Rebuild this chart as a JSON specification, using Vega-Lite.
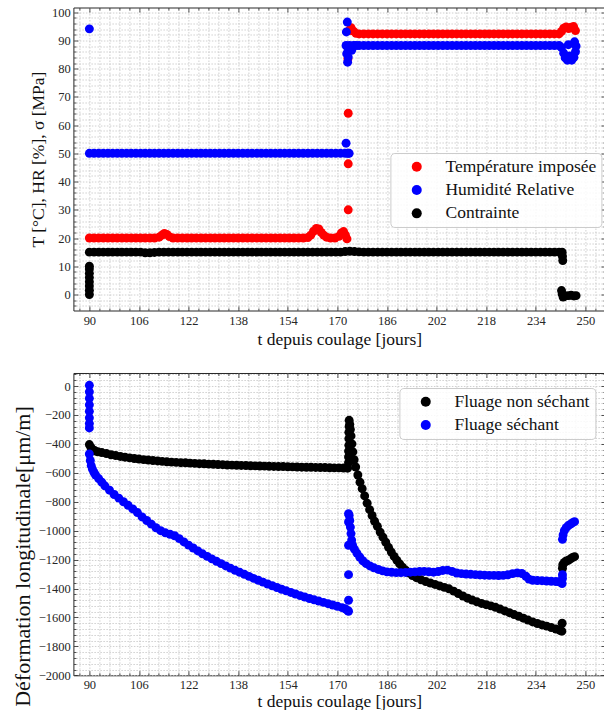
{
"$schema": "https://vega.github.io/schema/vega-lite/v6.json",
"padding": {"left": 11.4, "top": 5.5, "right": 0, "bottom": 0},
"spacing": 23.5,
"datasets": {
"T": [{"t":90,"v":20},{"t":91.5,"v":20},{"t":93,"v":20},{"t":94.5,"v":20},{"t":96,"v":20},{"t":97.5,"v":20},{"t":99,"v":20},{"t":100.5,"v":20},{"t":102,"v":20},{"t":103.5,"v":20},{"t":105,"v":20},{"t":106.5,"v":20},{"t":108,"v":20},{"t":109.5,"v":20},{"t":111,"v":20},{"t":112.5,"v":20.3},{"t":113.4,"v":21},{"t":114.2,"v":21.6},{"t":115,"v":21.3},{"t":115.8,"v":20.5},{"t":117,"v":20},{"t":118.5,"v":20},{"t":120,"v":20},{"t":121.5,"v":20},{"t":123,"v":20},{"t":124.5,"v":20},{"t":126,"v":20},{"t":127.5,"v":20},{"t":129,"v":20},{"t":130.5,"v":20},{"t":132,"v":20},{"t":133.5,"v":20},{"t":135,"v":20},{"t":136.5,"v":20},{"t":138,"v":20},{"t":139.5,"v":20},{"t":141,"v":20},{"t":142.5,"v":20},{"t":144,"v":20},{"t":145.5,"v":20},{"t":147,"v":20},{"t":148.5,"v":20},{"t":150,"v":20},{"t":151.5,"v":20},{"t":153,"v":20},{"t":154.5,"v":20},{"t":156,"v":20},{"t":157.5,"v":20},{"t":159,"v":20},{"t":160.5,"v":20.2},{"t":161.4,"v":21},{"t":162.3,"v":22.4},{"t":163.2,"v":23.4},{"t":164,"v":23.2},{"t":164.8,"v":22},{"t":165.6,"v":21},{"t":166.5,"v":20.3},{"t":167.8,"v":20},{"t":169.2,"v":20},{"t":170.5,"v":20.6},{"t":171.3,"v":21.8},{"t":172,"v":22.3},{"t":172.6,"v":21},{"t":173.1,"v":19.7},{"t":173.5,"v":30},{"t":173.5,"v":46.3},{"t":173.5,"v":64.2},{"t":173.4,"v":83.5},{"t":173.6,"v":87},{"t":173.8,"v":93.5},{"t":174.4,"v":94.5},{"t":175.2,"v":93.3},{"t":176,"v":92.5},{"t":177,"v":92.3},{"t":178.5,"v":92.3},{"t":180,"v":92.3},{"t":181.5,"v":92.3},{"t":183,"v":92.3},{"t":184.5,"v":92.3},{"t":186,"v":92.3},{"t":187.5,"v":92.3},{"t":189,"v":92.3},{"t":190.5,"v":92.3},{"t":192,"v":92.3},{"t":193.5,"v":92.3},{"t":195,"v":92.3},{"t":196.5,"v":92.3},{"t":198,"v":92.3},{"t":199.5,"v":92.3},{"t":201,"v":92.3},{"t":202.5,"v":92.3},{"t":204,"v":92.3},{"t":205.5,"v":92.3},{"t":207,"v":92.3},{"t":208.5,"v":92.3},{"t":210,"v":92.3},{"t":211.5,"v":92.3},{"t":213,"v":92.3},{"t":214.5,"v":92.3},{"t":216,"v":92.3},{"t":217.5,"v":92.3},{"t":219,"v":92.3},{"t":220.5,"v":92.3},{"t":222,"v":92.3},{"t":223.5,"v":92.3},{"t":225,"v":92.3},{"t":226.5,"v":92.3},{"t":228,"v":92.3},{"t":229.5,"v":92.3},{"t":231,"v":92.3},{"t":232.5,"v":92.3},{"t":234,"v":92.3},{"t":235.5,"v":92.3},{"t":237,"v":92.3},{"t":238.5,"v":92.3},{"t":240,"v":92.3},{"t":241.5,"v":92.3},{"t":242.3,"v":93.2},{"t":243,"v":94.3},{"t":243.8,"v":94.8},{"t":244.6,"v":94.2},{"t":245.4,"v":94.7},{"t":246.2,"v":94.9},{"t":246.8,"v":93.5}],
"H": [{"t":90,"v":94.1},{"t":90,"v":50},{"t":91.5,"v":50},{"t":93,"v":50},{"t":94.5,"v":50},{"t":96,"v":50},{"t":97.5,"v":50},{"t":99,"v":50},{"t":100.5,"v":50},{"t":102,"v":50},{"t":103.5,"v":50},{"t":105,"v":50},{"t":106.5,"v":50},{"t":108,"v":50},{"t":109.5,"v":50},{"t":111,"v":50},{"t":112.5,"v":50},{"t":114,"v":50},{"t":115.5,"v":50},{"t":117,"v":50},{"t":118.5,"v":50},{"t":120,"v":50},{"t":121.5,"v":50},{"t":123,"v":50},{"t":124.5,"v":50},{"t":126,"v":50},{"t":127.5,"v":50},{"t":129,"v":50},{"t":130.5,"v":50},{"t":132,"v":50},{"t":133.5,"v":50},{"t":135,"v":50},{"t":136.5,"v":50},{"t":138,"v":50},{"t":139.5,"v":50},{"t":141,"v":50},{"t":142.5,"v":50},{"t":144,"v":50},{"t":145.5,"v":50},{"t":147,"v":50},{"t":148.5,"v":50},{"t":150,"v":50},{"t":151.5,"v":50},{"t":153,"v":50},{"t":154.5,"v":50},{"t":156,"v":50},{"t":157.5,"v":50},{"t":159,"v":50},{"t":160.5,"v":50},{"t":162,"v":50},{"t":163.5,"v":50},{"t":165,"v":50},{"t":166.5,"v":50},{"t":168,"v":50},{"t":169.5,"v":50},{"t":171,"v":50},{"t":172.5,"v":50},{"t":172.8,"v":53.6},{"t":173.4,"v":50},{"t":173.8,"v":50},{"t":173.2,"v":96.5},{"t":172.9,"v":93},{"t":172.8,"v":88.2},{"t":173.3,"v":87.6},{"t":173,"v":85.3},{"t":173.5,"v":84.1},{"t":173.3,"v":82.3},{"t":173.9,"v":88.2},{"t":174.6,"v":86.5},{"t":175.2,"v":88.2},{"t":176,"v":88.2},{"t":177,"v":88.2},{"t":178.5,"v":88.2},{"t":180,"v":88.2},{"t":181.5,"v":88.2},{"t":183,"v":88.2},{"t":184.5,"v":88.2},{"t":186,"v":88.2},{"t":187.5,"v":88.2},{"t":189,"v":88.2},{"t":190.5,"v":88.2},{"t":192,"v":88.2},{"t":193.5,"v":88.2},{"t":195,"v":88.2},{"t":196.5,"v":88.2},{"t":198,"v":88.2},{"t":199.5,"v":88.2},{"t":201,"v":88.2},{"t":202.5,"v":88.2},{"t":204,"v":88.2},{"t":205.5,"v":88.2},{"t":207,"v":88.2},{"t":208.5,"v":88.2},{"t":210,"v":88.2},{"t":211.5,"v":88.2},{"t":213,"v":88.2},{"t":214.5,"v":88.2},{"t":216,"v":88.2},{"t":217.5,"v":88.2},{"t":219,"v":88.2},{"t":220.5,"v":88.2},{"t":222,"v":88.2},{"t":223.5,"v":88.2},{"t":225,"v":88.2},{"t":226.5,"v":88.2},{"t":228,"v":88.2},{"t":229.5,"v":88.2},{"t":231,"v":88.2},{"t":232.5,"v":88.2},{"t":234,"v":88.2},{"t":235.5,"v":88.2},{"t":237,"v":88.2},{"t":238.5,"v":88.2},{"t":240,"v":88.2},{"t":241.5,"v":88.2},{"t":242.3,"v":87.5},{"t":243,"v":85.5},{"t":243.5,"v":83.8},{"t":244.2,"v":83},{"t":245,"v":84.5},{"t":245.6,"v":83},{"t":246.3,"v":84},{"t":246.8,"v":86},{"t":247,"v":88},{"t":246.5,"v":89.5},{"t":244.5,"v":88.5}],
"C": [{"t":90,"v":0},{"t":90,"v":1.5},{"t":90,"v":3},{"t":90,"v":4.5},{"t":90,"v":6},{"t":90,"v":7.5},{"t":90,"v":9},{"t":90,"v":10},{"t":90,"v":15},{"t":91.5,"v":15},{"t":93,"v":15},{"t":94.5,"v":15},{"t":96,"v":15},{"t":97.5,"v":15},{"t":99,"v":15},{"t":100.5,"v":15},{"t":102,"v":15},{"t":103.5,"v":15},{"t":105,"v":15},{"t":106.5,"v":15},{"t":108,"v":14.8},{"t":109.5,"v":14.8},{"t":111,"v":14.9},{"t":112.5,"v":15},{"t":114,"v":15},{"t":115.5,"v":15},{"t":117,"v":15},{"t":118.5,"v":15},{"t":120,"v":15},{"t":121.5,"v":15},{"t":123,"v":15},{"t":124.5,"v":15},{"t":126,"v":15},{"t":127.5,"v":15},{"t":129,"v":15},{"t":130.5,"v":15},{"t":132,"v":15},{"t":133.5,"v":15},{"t":135,"v":15},{"t":136.5,"v":15},{"t":138,"v":15},{"t":139.5,"v":15},{"t":141,"v":15},{"t":142.5,"v":15},{"t":144,"v":15},{"t":145.5,"v":15},{"t":147,"v":15},{"t":148.5,"v":15},{"t":150,"v":15},{"t":151.5,"v":15},{"t":153,"v":15},{"t":154.5,"v":15},{"t":156,"v":15},{"t":157.5,"v":15},{"t":159,"v":15},{"t":160.5,"v":15},{"t":162,"v":15},{"t":163.5,"v":15},{"t":165,"v":15},{"t":166.5,"v":15},{"t":168,"v":15},{"t":169.5,"v":15},{"t":171,"v":15},{"t":172.5,"v":15.2},{"t":174,"v":15.3},{"t":175.5,"v":15.2},{"t":177,"v":15.1},{"t":178.5,"v":15},{"t":180,"v":15},{"t":181.5,"v":15},{"t":183,"v":15},{"t":184.5,"v":15},{"t":186,"v":15},{"t":187.5,"v":15},{"t":189,"v":15},{"t":190.5,"v":15},{"t":192,"v":15},{"t":193.5,"v":15},{"t":195,"v":15},{"t":196.5,"v":15},{"t":198,"v":15},{"t":199.5,"v":15},{"t":201,"v":15},{"t":202.5,"v":15},{"t":204,"v":15},{"t":205.5,"v":15},{"t":207,"v":15},{"t":208.5,"v":15},{"t":210,"v":15},{"t":211.5,"v":15},{"t":213,"v":15},{"t":214.5,"v":15},{"t":216,"v":15},{"t":217.5,"v":15},{"t":219,"v":15},{"t":220.5,"v":15},{"t":222,"v":15},{"t":223.5,"v":15},{"t":225,"v":15},{"t":226.5,"v":15},{"t":228,"v":15},{"t":229.5,"v":15},{"t":231,"v":15},{"t":232.5,"v":15},{"t":234,"v":15},{"t":235.5,"v":15},{"t":237,"v":15},{"t":238.5,"v":15},{"t":240,"v":15},{"t":241.5,"v":15},{"t":242.5,"v":15},{"t":242.6,"v":13.5},{"t":242.7,"v":12},{"t":242.3,"v":1.4},{"t":242.5,"v":0.2},{"t":242.8,"v":-0.9},{"t":243.6,"v":-0.5},{"t":244.5,"v":-0.4},{"t":245.4,"v":-0.3},{"t":246.3,"v":-0.5},{"t":247,"v":-0.4}],
"NS": [{"t":90,"v":-405},{"t":90.5,"v":-425},{"t":91,"v":-438},{"t":91.8,"v":-448},{"t":92.7,"v":-455},{"t":94,"v":-460},{"t":95.5,"v":-467},{"t":97,"v":-475},{"t":98.5,"v":-481},{"t":100,"v":-487},{"t":101.5,"v":-492},{"t":103,"v":-497},{"t":104.5,"v":-501},{"t":106,"v":-505},{"t":107.5,"v":-509},{"t":109,"v":-512},{"t":110.5,"v":-515},{"t":112,"v":-518},{"t":113.5,"v":-521},{"t":115,"v":-524},{"t":116.5,"v":-526},{"t":118,"v":-528},{"t":119.5,"v":-530},{"t":121,"v":-531},{"t":122.5,"v":-533},{"t":124,"v":-535},{"t":125.5,"v":-537},{"t":127,"v":-538},{"t":128.5,"v":-540},{"t":130,"v":-541},{"t":131.5,"v":-543},{"t":133,"v":-544},{"t":134.5,"v":-546},{"t":136,"v":-547},{"t":137.5,"v":-548},{"t":139,"v":-549},{"t":140.5,"v":-550},{"t":142,"v":-551},{"t":143.5,"v":-552},{"t":145,"v":-553},{"t":146.5,"v":-554},{"t":148,"v":-555},{"t":149.5,"v":-556},{"t":151,"v":-557},{"t":152.5,"v":-557},{"t":154,"v":-558},{"t":155.5,"v":-559},{"t":157,"v":-560},{"t":158.5,"v":-561},{"t":160,"v":-562},{"t":161.5,"v":-562},{"t":163,"v":-563},{"t":164.5,"v":-564},{"t":166,"v":-564},{"t":167.5,"v":-565},{"t":169,"v":-566},{"t":170.5,"v":-566},{"t":172,"v":-567},{"t":173.3,"v":-568},{"t":173.6,"v":-530},{"t":173.6,"v":-490},{"t":173.6,"v":-450},{"t":173.7,"v":-410},{"t":173.7,"v":-364},{"t":173.7,"v":-320},{"t":173.8,"v":-280},{"t":173.8,"v":-237},{"t":174,"v":-265},{"t":174.2,"v":-300},{"t":174.4,"v":-345},{"t":174.7,"v":-400},{"t":175,"v":-455},{"t":175.4,"v":-510},{"t":175.9,"v":-560},{"t":176.6,"v":-615},{"t":177.3,"v":-665},{"t":178,"v":-710},{"t":178.8,"v":-760},{"t":179.6,"v":-810},{"t":180.4,"v":-855},{"t":181.2,"v":-895},{"t":182,"v":-935},{"t":182.9,"v":-970},{"t":183.8,"v":-1010},{"t":184.7,"v":-1045},{"t":185.6,"v":-1080},{"t":186.5,"v":-1115},{"t":187.4,"v":-1148},{"t":188.3,"v":-1178},{"t":189.2,"v":-1205},{"t":190.1,"v":-1230},{"t":191,"v":-1252},{"t":192,"v":-1273},{"t":193,"v":-1292},{"t":194.2,"v":-1310},{"t":195.5,"v":-1325},{"t":197,"v":-1340},{"t":198.5,"v":-1352},{"t":200,"v":-1362},{"t":201.5,"v":-1372},{"t":203,"v":-1382},{"t":204.5,"v":-1392},{"t":206,"v":-1402},{"t":207.5,"v":-1418},{"t":209,"v":-1435},{"t":210.5,"v":-1452},{"t":212,"v":-1467},{"t":213.5,"v":-1480},{"t":215,"v":-1492},{"t":216.5,"v":-1503},{"t":218,"v":-1512},{"t":219.5,"v":-1520},{"t":221,"v":-1530},{"t":222.5,"v":-1542},{"t":224,"v":-1555},{"t":225.5,"v":-1567},{"t":227,"v":-1580},{"t":228.5,"v":-1592},{"t":230,"v":-1605},{"t":231.5,"v":-1618},{"t":233,"v":-1631},{"t":234.5,"v":-1642},{"t":236,"v":-1652},{"t":237.5,"v":-1660},{"t":239,"v":-1670},{"t":240.5,"v":-1680},{"t":241.8,"v":-1690},{"t":242.4,"v":-1695},{"t":242.5,"v":-1640},{"t":242.6,"v":-1260},{"t":242.7,"v":-1235},{"t":243.2,"v":-1220},{"t":243.8,"v":-1210},{"t":244.5,"v":-1205},{"t":245.2,"v":-1195},{"t":245.9,"v":-1185},{"t":246.5,"v":-1180}],
"S": [{"t":90,"v":5},{"t":90,"v":-40},{"t":90,"v":-85},{"t":90,"v":-130},{"t":90,"v":-175},{"t":90,"v":-220},{"t":90,"v":-260},{"t":90,"v":-290},{"t":90,"v":-470},{"t":90.3,"v":-515},{"t":90.6,"v":-550},{"t":91,"v":-575},{"t":91.5,"v":-598},{"t":92,"v":-615},{"t":93,"v":-640},{"t":94,"v":-665},{"t":95,"v":-690},{"t":96.5,"v":-720},{"t":98,"v":-750},{"t":99.5,"v":-775},{"t":101,"v":-800},{"t":102.5,"v":-825},{"t":104,"v":-850},{"t":105.5,"v":-875},{"t":107,"v":-905},{"t":108.5,"v":-930},{"t":110,"v":-955},{"t":111.5,"v":-980},{"t":113,"v":-1000},{"t":114.5,"v":-1015},{"t":116,"v":-1025},{"t":117.5,"v":-1035},{"t":119,"v":-1055},{"t":120.5,"v":-1078},{"t":122,"v":-1100},{"t":123.5,"v":-1120},{"t":125,"v":-1140},{"t":126.5,"v":-1160},{"t":128,"v":-1178},{"t":129.5,"v":-1195},{"t":131,"v":-1212},{"t":132.5,"v":-1228},{"t":134,"v":-1244},{"t":135.5,"v":-1259},{"t":137,"v":-1274},{"t":138.5,"v":-1288},{"t":140,"v":-1302},{"t":141.5,"v":-1316},{"t":143,"v":-1330},{"t":144.5,"v":-1343},{"t":146,"v":-1356},{"t":147.5,"v":-1369},{"t":149,"v":-1381},{"t":150.5,"v":-1393},{"t":152,"v":-1405},{"t":153.5,"v":-1416},{"t":155,"v":-1427},{"t":156.5,"v":-1438},{"t":158,"v":-1449},{"t":159.5,"v":-1459},{"t":161,"v":-1469},{"t":162.5,"v":-1478},{"t":164,"v":-1487},{"t":165.5,"v":-1496},{"t":167,"v":-1505},{"t":168.5,"v":-1514},{"t":170,"v":-1523},{"t":171.5,"v":-1532},{"t":172.5,"v":-1540},{"t":173.3,"v":-1552},{"t":173.6,"v":-883},{"t":173.6,"v":-940},{"t":173.6,"v":-1101},{"t":173.6,"v":-1304},{"t":173.6,"v":-1481},{"t":173.6,"v":-1557},{"t":173.8,"v":-894},{"t":174,"v":-930},{"t":174.2,"v":-975},{"t":174.4,"v":-1020},{"t":174.6,"v":-1065},{"t":174.9,"v":-1100},{"t":175.5,"v":-1128},{"t":176.3,"v":-1155},{"t":177.2,"v":-1182},{"t":178.2,"v":-1208},{"t":179.3,"v":-1228},{"t":180.5,"v":-1244},{"t":181.8,"v":-1257},{"t":183.2,"v":-1268},{"t":184.6,"v":-1278},{"t":186,"v":-1285},{"t":187.5,"v":-1288},{"t":189,"v":-1290},{"t":190.5,"v":-1290},{"t":192,"v":-1289},{"t":193.5,"v":-1287},{"t":195,"v":-1285},{"t":196.5,"v":-1283},{"t":198,"v":-1282},{"t":199.5,"v":-1284},{"t":201,"v":-1287},{"t":202.5,"v":-1283},{"t":204,"v":-1275},{"t":205.5,"v":-1273},{"t":207,"v":-1282},{"t":208.5,"v":-1293},{"t":210,"v":-1297},{"t":211.5,"v":-1300},{"t":213,"v":-1302},{"t":214.5,"v":-1304},{"t":216,"v":-1306},{"t":217.5,"v":-1308},{"t":219,"v":-1309},{"t":220.5,"v":-1309},{"t":222,"v":-1310},{"t":223.5,"v":-1309},{"t":225,"v":-1305},{"t":226.5,"v":-1297},{"t":228,"v":-1292},{"t":229.5,"v":-1296},{"t":230.8,"v":-1315},{"t":231.8,"v":-1335},{"t":233,"v":-1343},{"t":234.5,"v":-1345},{"t":236,"v":-1346},{"t":237.5,"v":-1348},{"t":239,"v":-1350},{"t":240.5,"v":-1352},{"t":241.8,"v":-1355},{"t":242.5,"v":-1366},{"t":242.6,"v":-1330},{"t":242.6,"v":-1305},{"t":242.6,"v":-1060},{"t":242.8,"v":-1030},{"t":243.2,"v":-1000},{"t":243.8,"v":-980},{"t":244.5,"v":-965},{"t":245.2,"v":-955},{"t":245.9,"v":-945},{"t":246.5,"v":-938}]
},
"resolve": {"scale": {"color": "independent", "x": "independent", "y": "independent"}, "legend": {"color": "independent"}},
"vconcat": [
{
"width": 532, "height": 303,
"layer": [
{"layer": [
{"data": {"name": "T"}, "mark": {"type": "circle", "size": 80, "opacity": 1},
 "encoding": {
  "x": {"field": "t", "type": "quantitative", "scale": {"domain": [84.85, 256.45], "nice": false, "zero": false},
   "axis": {"orient": "bottom", "values": [90,106,122,138,154,170,186,202,218,234,250], "format": "d", "tickSize": -4.5, "labelPadding": 8, "labelOverlap": false, "labelFlush": false, "grid": true,
    "title": "t depuis coulage [jours]", "titleY": 20, "titleBaseline": "top"}},
  "y": {"field": "v", "type": "quantitative", "scale": {"domain": [-5.67, 101.66], "nice": false, "zero": false},
   "axis": {"orient": "left", "values": [0,20,40,60,80,100], "format": "d", "tickSize": -4.5, "labelPadding": 7.7, "labelOverlap": false, "labelFlush": false, "grid": true,
    "title": "T [°C], HR [%], σ [MPa]", "titleX": -29.5, "titleBaseline": "alphabetic"}},
  "color": {"datum": "Température imposée", "scale": {"domain": ["Température imposée", "Humidité Relative", "Contrainte"], "range": ["#ff0000", "#0000ff", "#000000"]},
   "legend": {"title": null, "orient": "none", "legendX": 317, "legendY": 145.5}}
 }},
{"data": {"name": "H"}, "mark": {"type": "circle", "size": 80, "opacity": 1},
 "encoding": {"x": {"field": "t", "type": "quantitative", "scale": {"domain": [84.85, 256.45], "nice": false, "zero": false}}, "y": {"field": "v", "type": "quantitative", "scale": {"domain": [-5.67, 101.66], "nice": false, "zero": false}}, "color": {"datum": "Humidité Relative"}}},
{"data": {"name": "C"}, "mark": {"type": "circle", "size": 80, "opacity": 1},
 "encoding": {"x": {"field": "t", "type": "quantitative", "scale": {"domain": [84.85, 256.45], "nice": false, "zero": false}}, "y": {"field": "v", "type": "quantitative", "scale": {"domain": [-5.67, 101.66], "nice": false, "zero": false}}, "color": {"datum": "Contrainte"}}}
]},
{"data": {"name": "C"}, "transform": [{"filter": "datum.t == 90 && datum.v == 0"}], "mark": {"type": "circle", "opacity": 0},
 "encoding": {
  "x": {"field": "t", "type": "quantitative", "scale": {"domain": [84.85, 256.45], "nice": false, "zero": false},
   "axis": {"orient": "top", "values": [90,106,122,138,154,170,186,202,218,234,250], "labels": false, "grid": false, "title": null, "tickSize": -4.5}},
  "y": {"field": "v", "type": "quantitative", "scale": {"domain": [-5.67, 101.66], "nice": false, "zero": false},
   "axis": {"orient": "right", "values": [0,10,20,30,40,50,60,70,80,90,100], "labels": false, "grid": false, "title": null, "tickSize": -4.5}}
 }},
{"data": {"name": "C"}, "transform": [{"filter": "datum.t == 90 && datum.v == 0"}], "mark": {"type": "circle", "opacity": 0},
 "encoding": {
  "x": {"field": "t", "type": "quantitative", "scale": {"domain": [84.85, 256.45], "nice": false, "zero": false},
   "axis": {"orient": "top", "values": [86.8,93.2,96.4,99.6,102.8,109.2,112.4,115.6,118.8,125.2,128.4,131.6,134.8,141.2,144.4,147.6,150.8,157.2,160.4,163.6,166.8,173.2,176.4,179.6,182.8,189.2,192.4,195.6,198.8,205.2,208.4,211.6,214.8,221.2,224.4,227.6,230.8,237.2,240.4,243.6,246.8,253.2], "labels": false, "grid": true, "title": null, "tickSize": -2.5}},
  "y": {"field": "v", "type": "quantitative", "scale": {"domain": [-5.67, 101.66], "nice": false, "zero": false},
   "axis": {"orient": "right", "values": [-4,-2,2,4,6,8,12,14,16,18,22,24,26,28,32,34,36,38,42,44,46,48,52,54,56,58,62,64,66,68,72,74,76,78,82,84,86,88,92,94,96,98], "labels": false, "grid": true, "title": null, "tickSize": -2.5}}
 }},
{"data": {"name": "C"}, "transform": [{"filter": "datum.t == 90 && datum.v == 0"}], "mark": {"type": "circle", "opacity": 0},
 "encoding": {
  "x": {"field": "t", "type": "quantitative", "scale": {"domain": [84.85, 256.45], "nice": false, "zero": false},
   "axis": {"orient": "bottom", "values": [86.8,93.2,96.4,99.6,102.8,109.2,112.4,115.6,118.8,125.2,128.4,131.6,134.8,141.2,144.4,147.6,150.8,157.2,160.4,163.6,166.8,173.2,176.4,179.6,182.8,189.2,192.4,195.6,198.8,205.2,208.4,211.6,214.8,221.2,224.4,227.6,230.8,237.2,240.4,243.6,246.8,253.2], "labels": false, "grid": false, "title": null, "tickSize": -2.5}},
  "y": {"field": "v", "type": "quantitative", "scale": {"domain": [-5.67, 101.66], "nice": false, "zero": false},
   "axis": {"orient": "left", "values": [-4,-2,2,4,6,8,12,14,16,18,22,24,26,28,32,34,36,38,42,44,46,48,52,54,56,58,62,64,66,68,72,74,76,78,82,84,86,88,92,94,96,98], "labels": false, "grid": false, "title": null, "tickSize": -2.5}}
 }},
{"data": {"name": "C"}, "transform": [{"filter": "datum.t == 90 && datum.v == 0"}], "mark": {"type": "circle", "opacity": 0},
 "encoding": {
  "x": {"field": "t", "type": "quantitative", "scale": {"domain": [84.85, 256.45], "nice": false, "zero": false}, "axis": null},
  "y": {"field": "v", "type": "quantitative", "scale": {"domain": [-5.67, 101.66], "nice": false, "zero": false},
   "axis": {"orient": "left", "values": [10,30,50,70,90], "format": "d", "tickSize": -4.5, "labelPadding": 7.7, "labelOverlap": false, "labelFlush": false, "grid": true, "title": null}}
 }}
],
"resolve": {"axis": {"x": "independent", "y": "independent"}}
},
{
"width": 532, "height": 302.3,
"layer": [
{"layer": [
{"data": {"name": "NS"}, "mark": {"type": "circle", "size": 80, "opacity": 1},
 "encoding": {
  "x": {"field": "t", "type": "quantitative", "scale": {"domain": [84.85, 256.45], "nice": false, "zero": false},
   "axis": {"orient": "bottom", "values": [90,106,122,138,154,170,186,202,218,234,250], "format": "d", "tickSize": -4.5, "labelPadding": 8, "labelOverlap": false, "labelFlush": false, "grid": true,
    "title": "t depuis coulage [jours]", "titleY": 17, "titleBaseline": "top"}},
  "y": {"field": "v", "type": "quantitative", "scale": {"domain": [-2000, 90], "nice": false, "zero": false},
   "axis": {"orient": "left", "values": [-2000,-1600,-1200,-800,-400,0], "format": "d", "tickSize": -4.5, "labelPadding": 7.7, "labelOverlap": false, "labelFlush": false, "grid": true,
    "title": "Déformation longitudinale[μm/m]", "titleFontSize": 22, "titleX": -43.5, "titleY": 183, "titleBaseline": "alphabetic"}},
  "color": {"datum": "Fluage non séchant", "scale": {"domain": ["Fluage non séchant", "Fluage séchant"], "range": ["#000000", "#0000ff"]},
   "legend": {"title": null, "orient": "none", "legendX": 326, "legendY": 15}}
 }},
{"data": {"name": "S"}, "mark": {"type": "circle", "size": 80, "opacity": 1},
 "encoding": {"x": {"field": "t", "type": "quantitative", "scale": {"domain": [84.85, 256.45], "nice": false, "zero": false}}, "y": {"field": "v", "type": "quantitative", "scale": {"domain": [-2000, 90], "nice": false, "zero": false}}, "color": {"datum": "Fluage séchant"}}}
]},
{"data": {"name": "NS"}, "transform": [{"filter": "datum.t == 90"}], "mark": {"type": "circle", "opacity": 0},
 "encoding": {
  "x": {"field": "t", "type": "quantitative", "scale": {"domain": [84.85, 256.45], "nice": false, "zero": false},
   "axis": {"orient": "top", "values": [90,106,122,138,154,170,186,202,218,234,250], "labels": false, "grid": false, "title": null, "tickSize": -4.5}},
  "y": {"field": "v", "type": "quantitative", "scale": {"domain": [-2000, 90], "nice": false, "zero": false},
   "axis": {"orient": "right", "values": [-2000,-1800,-1600,-1400,-1200,-1000,-800,-600,-400,-200,0], "labels": false, "grid": false, "title": null, "tickSize": -4.5}}
 }},
{"data": {"name": "NS"}, "transform": [{"filter": "datum.t == 90"}], "mark": {"type": "circle", "opacity": 0},
 "encoding": {
  "x": {"field": "t", "type": "quantitative", "scale": {"domain": [84.85, 256.45], "nice": false, "zero": false},
   "axis": {"orient": "top", "values": [86.8,93.2,96.4,99.6,102.8,109.2,112.4,115.6,118.8,125.2,128.4,131.6,134.8,141.2,144.4,147.6,150.8,157.2,160.4,163.6,166.8,173.2,176.4,179.6,182.8,189.2,192.4,195.6,198.8,205.2,208.4,211.6,214.8,221.2,224.4,227.6,230.8,237.2,240.4,243.6,246.8,253.2], "labels": false, "grid": true, "title": null, "tickSize": -2.5}},
  "y": {"field": "v", "type": "quantitative", "scale": {"domain": [-2000, 90], "nice": false, "zero": false},
   "axis": {"orient": "right", "values": [-1960,-1920,-1880,-1840,-1760,-1720,-1680,-1640,-1560,-1520,-1480,-1440,-1360,-1320,-1280,-1240,-1160,-1120,-1080,-1040,-960,-920,-880,-840,-760,-720,-680,-640,-560,-520,-480,-440,-360,-320,-280,-240,-160,-120,-80,-40,40,80], "labels": false, "grid": true, "title": null, "tickSize": -2.5}}
 }},
{"data": {"name": "NS"}, "transform": [{"filter": "datum.t == 90"}], "mark": {"type": "circle", "opacity": 0},
 "encoding": {
  "x": {"field": "t", "type": "quantitative", "scale": {"domain": [84.85, 256.45], "nice": false, "zero": false},
   "axis": {"orient": "bottom", "values": [86.8,93.2,96.4,99.6,102.8,109.2,112.4,115.6,118.8,125.2,128.4,131.6,134.8,141.2,144.4,147.6,150.8,157.2,160.4,163.6,166.8,173.2,176.4,179.6,182.8,189.2,192.4,195.6,198.8,205.2,208.4,211.6,214.8,221.2,224.4,227.6,230.8,237.2,240.4,243.6,246.8,253.2], "labels": false, "grid": false, "title": null, "tickSize": -2.5}},
  "y": {"field": "v", "type": "quantitative", "scale": {"domain": [-2000, 90], "nice": false, "zero": false},
   "axis": {"orient": "left", "values": [-1960,-1920,-1880,-1840,-1760,-1720,-1680,-1640,-1560,-1520,-1480,-1440,-1360,-1320,-1280,-1240,-1160,-1120,-1080,-1040,-960,-920,-880,-840,-760,-720,-680,-640,-560,-520,-480,-440,-360,-320,-280,-240,-160,-120,-80,-40,40,80], "labels": false, "grid": false, "title": null, "tickSize": -2.5}}
 }},
{"data": {"name": "NS"}, "transform": [{"filter": "datum.t == 90"}], "mark": {"type": "circle", "opacity": 0},
 "encoding": {
  "x": {"field": "t", "type": "quantitative", "scale": {"domain": [84.85, 256.45], "nice": false, "zero": false}, "axis": null},
  "y": {"field": "v", "type": "quantitative", "scale": {"domain": [-2000, 90], "nice": false, "zero": false},
   "axis": {"orient": "left", "values": [-1800,-1400,-1000,-600,-200], "format": "d", "tickSize": -4.5, "labelPadding": 7.7, "labelOverlap": false, "labelFlush": false, "grid": true, "title": null}}
 }}
],
"resolve": {"axis": {"x": "independent", "y": "independent"}}
}
],
"config": {
 "view": {"stroke": "#262626", "strokeWidth": 1},
 "axis": {"domain": false, "labelFont": "Liberation Serif", "labelFontSize": 12.5, "labelColor": "#262626", "titleFont": "Liberation Serif", "titleFontSize": 17.5, "titleFontWeight": "normal", "titleColor": "#111111", "tickColor": "#262626", "tickWidth": 0.8, "gridColor": "#c4c4c4", "gridDash": [1.5, 1.5], "gridWidth": 0.8, "labelOverlap": false, "labelFlush": false},
 "legend": {"padding": 5, "symbolOffset": 12.6, "labelOffset": 20, "rowPadding": 4.3, "labelFont": "Liberation Serif", "labelFontSize": 17.5, "labelColor": "#111111", "fillColor": "rgba(255,255,255,0.85)", "strokeColor": "#cccccc", "cornerRadius": 4, "symbolSize": 100, "symbolType": "circle", "symbolStrokeWidth": 0, "symbolOpacity": 1, "labelLimit": 400}
}
}
